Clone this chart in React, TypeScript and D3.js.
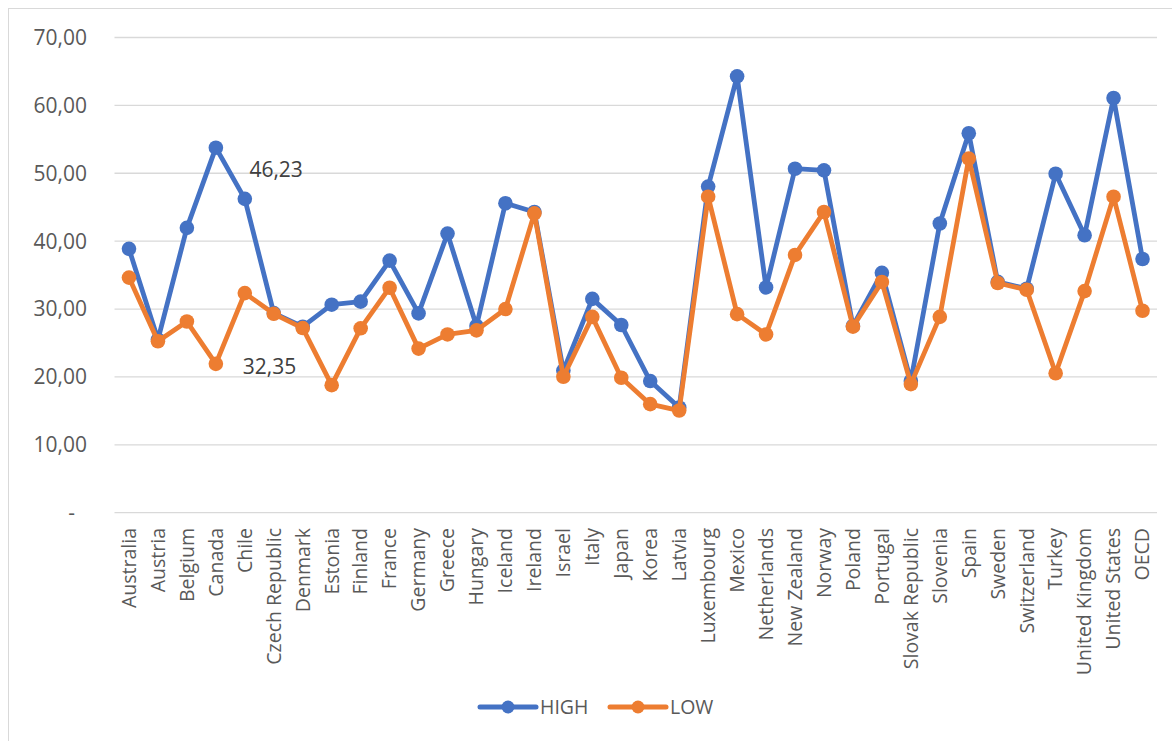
import React from "react";
import * as d3 from "d3";

const categories = [
  "Australia", "Austria", "Belgium", "Canada", "Chile", "Czech Republic", "Denmark", "Estonia",
  "Finland", "France", "Germany", "Greece", "Hungary", "Iceland", "Ireland", "Israel", "Italy",
  "Japan", "Korea", "Latvia", "Luxembourg", "Mexico", "Netherlands", "New Zealand", "Norway",
  "Poland", "Portugal", "Slovak Republic", "Slovenia", "Spain", "Sweden", "Switzerland", "Turkey",
  "United Kingdom", "United States", "OECD",
];

const highValues = [
  38.87, 25.5, 41.96, 53.77, 46.23, 29.4, 27.4, 30.64, 31.09, 37.13, 29.36, 41.11, 27.5, 45.59,
  44.3, 20.93, 31.5, 27.65, 19.39, 15.5, 48.04, 64.28, 33.18, 50.67, 50.43, 27.5, 35.33, 19.4,
  42.6, 55.9, 34.0, 33.0, 49.93, 40.87, 61.09, 37.37,
];

const lowValues = [
  34.63, 25.26, 28.16, 21.93, 32.35, 29.3, 27.2, 18.79, 27.16, 33.14, 24.17, 26.26, 26.86, 30.0,
  44.1, 20.03, 28.85, 19.88, 15.99, 15.05, 46.55, 29.25, 26.26, 37.97, 44.3, 27.41, 33.99, 18.94,
  28.85, 52.17, 33.84, 32.84, 20.54, 32.64, 46.55, 29.75,
];

const yTicks = [0, 10, 20, 30, 40, 50, 60, 70];
const yTickLabels = ["-", "10,00", "20,00", "30,00", "40,00", "50,00", "60,00", "70,00"];

const seriesNames = ["HIGH", "LOW"];
const seriesColors = ["#4472C4", "#ED7D31"];

const dataLabels = [
  { series: 0, index: 4, text: "46,23" },
  { series: 1, index: 4, text: "32,35" },
];

const W = 1172;
const H = 741;
const FONT = "'Open Sans', 'Noto Sans', sans-serif";
const TEXT = "#595959";

export default function App() {
  const x = d3.scaleBand<string>().domain(categories).range([114.5, 1157]);
  const y = d3.scaleLinear().domain([0, 70]).range([512.7, 37.5]);
  const cx = (c: string) => (x(c) as number) + x.bandwidth() / 2;

  const series = [highValues, lowValues];
  const line = d3
    .line<number>()
    .x((_, i) => cx(categories[i]))
    .y((d) => y(d));

  const labelOffsets = [
    { dx: 4.6, dy: -29 },
    { dx: -2, dy: 73.6 },
  ];

  return (
    <div style={{ position: "absolute", left: 0, top: 0, width: W, height: H, background: "#fff" }}>
      <svg width={W} height={H} style={{ display: "block" }}>
        <rect x={0} y={0} width={W} height={H} fill="#fff" />
        <rect x={8.5} y={8.5} width={1300} height={900} fill="none" stroke="#D9D9D9" strokeWidth={1} />
        {yTicks.map((t) => (
          <line key={t} x1={114.5} x2={1157} y1={y(t)} y2={y(t)} stroke="#D9D9D9" strokeWidth={1.3} />
        ))}
        {yTicks.map((t, i) => (
          <text
            key={t}
            x={t === 0 ? 75 : 87}
            y={y(t)}
            dy="0.35em"
            textAnchor="end"
            fontFamily={FONT}
            fontSize={21}
            fill={TEXT}
          >
            {yTickLabels[i]}
          </text>
        ))}
        {categories.map((c) => (
          <text
            key={c}
            transform={`translate(${cx(c)},528) rotate(-90)`}
            textAnchor="end"
            dy="0.35em"
            fontFamily={FONT}
            fontSize={19.5}
            fill={TEXT}
          >
            {c}
          </text>
        ))}
        {series.map((vals, s) => (
          <g key={seriesNames[s]}>
            <path d={line(vals) || ""} fill="none" stroke={seriesColors[s]} strokeWidth={4.8} strokeLinejoin="round" strokeLinecap="round" />
            {vals.map((v, i) => (
              <circle key={i} cx={cx(categories[i])} cy={y(v)} r={7.3} fill={seriesColors[s]} />
            ))}
          </g>
        ))}
        {dataLabels.map((d, k) => {
          const v = series[d.series][d.index];
          return (
            <text
              key={k}
              x={cx(categories[d.index]) + labelOffsets[k].dx}
              y={y(v) + labelOffsets[k].dy}
              dy="0.35em"
              fontFamily={FONT}
              fontSize={21}
              fill="#404040"
            >
              {d.text}
            </text>
          );
        })}
        {seriesNames.map((n, s) => {
          const x0 = s === 0 ? 480 : 610;
          return (
            <g key={n}>
              <line x1={x0} x2={x0 + 56} y1={707} y2={707} stroke={seriesColors[s]} strokeWidth={5} strokeLinecap="round" />
              <circle cx={x0 + 28} cy={707} r={6.5} fill={seriesColors[s]} />
              <text x={x0 + 60} y={707} dy="0.35em" fontFamily={FONT} fontSize={19.5} fill={TEXT}>
                {n}
              </text>
            </g>
          );
        })}
      </svg>
    </div>
  );
}
